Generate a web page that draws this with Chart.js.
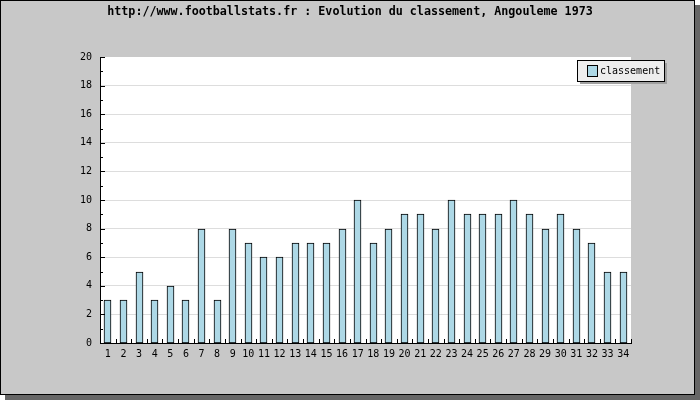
<!DOCTYPE html>
<html>
<head>
<meta charset="utf-8">
<script src="https://cdn.jsdelivr.net/npm/chart.js@4.4.0/dist/chart.umd.min.js"></script>
<style>
html,body{margin:0;padding:0;background:#fff;}
canvas{display:block;}
</style>
</head>
<body>
<canvas id="c" width="700" height="400"></canvas>
<script>
const titleText = "http://www.footballstats.fr : Evolution du classement, Angouleme 1973";
const rounds = ["1","2","3","4","5","6","7","8","9","10","11","12","13","14","15","16","17","18","19","20","21","22","23","24","25","26","27","28","29","30","31","32","33","34"];
const classement = [3,3,5,3,4,3,8,3,8,7,6,6,7,7,7,8,10,7,8,9,9,8,10,9,9,9,10,9,8,9,8,7,5,5];
const seriesLabel = "classement";
const yMin = 0, yMax = 20, yStep = 2;

const MONO = "'DejaVu Sans Mono', 'Liberation Mono', monospace";
const BAR_FILL = "#add8e6";

const framePlugin = {
  id: 'frame',
  beforeDraw(chart) {
    const ctx = chart.ctx;
    const W = chart.width, H = chart.height;
    const a = chart.chartArea;
    ctx.save();
    ctx.fillStyle = '#ffffff';
    ctx.fillRect(0, 0, W, H);
    ctx.fillStyle = '#666666';
    ctx.fillRect(5, 5, W - 5, H - 5);
    ctx.fillStyle = '#c8c8c8';
    ctx.fillRect(0, 0, W - 5, H - 5);
    ctx.strokeStyle = '#000';
    ctx.lineWidth = 1;
    ctx.strokeRect(0.5, 0.5, W - 6, H - 6);
    ctx.fillStyle = '#ffffff';
    ctx.fillRect(a.left, a.top, a.right - a.left, a.bottom - a.top);
    ctx.fillStyle = '#000';
    ctx.font = "bold 11.7px " + MONO;
    ctx.textAlign = 'center';
    ctx.textBaseline = 'middle';
    ctx.fillText(titleText, W / 2, 12);
    ctx.restore();
  },
  beforeDatasetsDraw(chart) {
    chart.getSortedVisibleDatasetMetas().forEach(meta => {
      meta.data.forEach(el => {
        el.x = Math.floor(el.x) + 0.5;
        el.y = Math.round(el.y);
        el.base = Math.round(el.base);
      });
    });
  },
  afterDraw(chart) {
    const ctx = chart.ctx;
    const a = chart.chartArea;
    const ys = chart.scales.y;
    ctx.save();
    ctx.strokeStyle = '#000';
    ctx.lineWidth = 1;
    ctx.beginPath();
    for (let v = yMin; v <= yMax; v += yStep / 2) {
      const y = Math.round(ys.getPixelForValue(v)) + 0.5;
      const len = (v % yStep === 0) ? 5 : 3;
      ctx.moveTo(a.left, y);
      ctx.lineTo(a.left + len, y);
    }
    const n = rounds.length;
    const cw = (a.right - a.left) / n;
    for (let i = 1; i <= n; i++) {
      const x = Math.round(a.left + i * cw) + 0.5;
      ctx.moveTo(x, a.bottom);
      ctx.lineTo(x, a.bottom - 4);
    }
    ctx.stroke();

    const lx = 577, ly = 60, lw = 87, lh = 21;
    ctx.fillStyle = '#a0a0a0';
    ctx.fillRect(lx + 3, ly + 3, lw, lh);
    ctx.fillStyle = '#eeeeee';
    ctx.fillRect(lx, ly, lw, lh);
    ctx.strokeStyle = '#000';
    ctx.strokeRect(lx + 0.5, ly + 0.5, lw, lh);
    ctx.fillStyle = BAR_FILL;
    ctx.fillRect(587, 65, 10, 11);
    ctx.strokeRect(587.5, 65.5, 10, 11);
    ctx.fillStyle = '#000';
    ctx.font = "10px " + MONO;
    ctx.textBaseline = 'middle';
    ctx.textAlign = 'left';
    ctx.fillText(seriesLabel, 600, 71);
    ctx.restore();
  }
};

new Chart(document.getElementById('c'), {
  type: 'bar',
  data: {
    labels: rounds,
    datasets: [{
      label: seriesLabel,
      data: classement,
      backgroundColor: BAR_FILL,
      borderColor: '#000',
      borderWidth: 1,
      borderSkipped: false,
      barThickness: 7,
      categoryPercentage: 1.0
    }]
  },
  options: {
    responsive: false,
    animation: false,
    devicePixelRatio: 1,
    layout: { padding: { left: 0, right: 69, top: 57, bottom: 0 } },
    plugins: {
      legend: { display: false },
      tooltip: { enabled: false },
      title: { display: false }
    },
    scales: {
      x: {
        grid: { display: false, drawTicks: false },
        border: { display: true, color: '#000', width: 1 },
        ticks: { color: '#000', font: { family: MONO, size: 10 }, padding: 5, maxRotation: 0, autoSkip: false },
        afterFit(s) { s.height = 57; }
      },
      y: {
        min: yMin, max: yMax,
        grid: {
          drawTicks: false,
          color: (c) => (c.tick && (c.tick.value === yMin || c.tick.value === yMax)) ? 'rgba(0,0,0,0)' : '#dddddd'
        },
        border: { display: true, color: '#000', width: 1 },
        ticks: { stepSize: yStep, color: '#000', font: { family: MONO, size: 10 }, padding: 8 },
        afterFit(s) { s.width = 100; }
      }
    }
  },
  plugins: [framePlugin]
});
</script>
</body>
</html>
